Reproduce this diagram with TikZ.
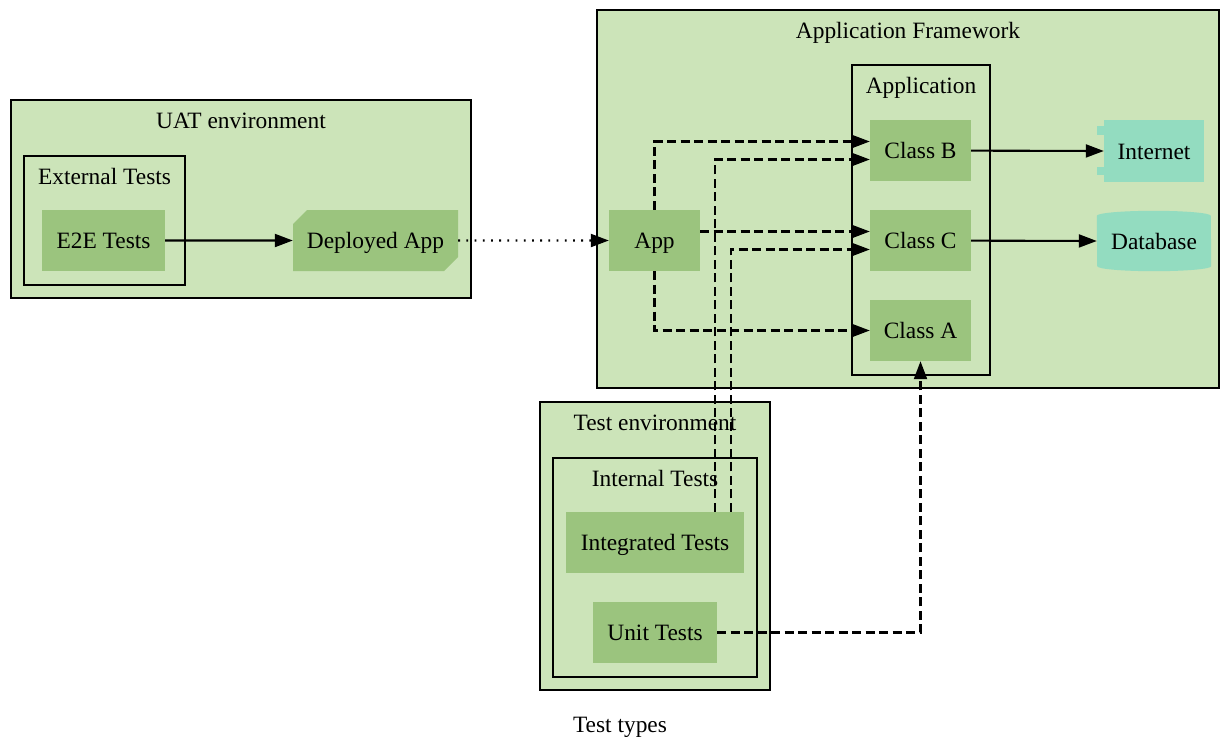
\documentclass[tikz,border=0pt]{standalone}
\usepackage{fontspec}
\setmainfont{Liberation Serif}
\usetikzlibrary{arrows.meta,shapes.misc,calc}

\definecolor{clusterfill}{HTML}{CCE4B9}
\definecolor{nodefill}{HTML}{9BC47E}
\definecolor{extfill}{HTML}{93DCC0}

\tikzset{
  every node/.style={font=\fontsize{23.4}{28}\selectfont, inner sep=0pt,
                     text height=16pt, text depth=0pt},
  cluster/.style={draw=black, line width=1.9pt, fill=clusterfill},
  box/.style={fill=nodefill, minimum height=61pt},
  extbox/.style={fill=extfill, minimum height=61pt},
  edge/.style={line width=2.1pt, -{Triangle[length=18pt,width=13pt]}},
  dashedge/.style={edge, dash pattern=on 9pt off 4.5pt},
  dotedge/.style={edge, dash pattern=on 1.8pt off 6.4pt},
}

\begin{document}
\begin{tikzpicture}[x=1pt, y=-1pt]
  \useasboundingbox (0,0) rectangle (1220,736);

  % clusters
  \node[cluster, minimum width=460pt, minimum height=198pt] (uat) at (241,199) {};
  \node at ([yshift=-21pt]uat.north) (uatlbl) {UAT environment};
  \node[cluster, minimum width=161pt, minimum height=129pt] (ext) at (104.5,220.5) {};
  \node at ([yshift=-21pt]ext.north) (extlbl) {External Tests};

  \node[cluster, minimum width=622pt, minimum height=378pt] (fw) at (908,199) {};
  \node at ([yshift=-21pt]fw.north) (fwlbl) {Application Framework};
  \node[cluster, minimum width=138pt, minimum height=310pt] (appc) at (921,220) {};
  \node at ([yshift=-21pt]appc.north) (appclbl) {Application};

  \node[cluster, minimum width=230pt, minimum height=288pt] (testenv) at (655,546) {};
  \node[cluster, minimum width=204pt, minimum height=219pt] (internal) at (655,567.5) {};
  \node at ([yshift=-21pt]testenv.north) (testlbl) {Test environment};
  \node at ([yshift=-21pt]internal.north) (intlbl) {Internal Tests};

  % nodes
  \node[box, minimum width=123pt] (e2e) at (103.5,240.5) {E2E Tests};
  \node[box, minimum width=165pt, chamfered rectangle,
        chamfered rectangle corners={north west, south east},
        chamfered rectangle xsep=7pt, chamfered rectangle ysep=7pt] (dep) at (375.5,240.5) {Deployed App};
  \node[box, minimum width=91pt] (app) at (654.5,240.5) {App};
  \node[box, minimum width=101pt] (classB) at (920.5,150.5) {Class B};
  \node[box, minimum width=101pt] (classC) at (920.5,240.5) {Class C};
  \node[box, minimum width=101pt] (classA) at (920.5,330.5) {Class A};
  \node[box, minimum width=178pt] (integ) at (655,542.5) {Integrated Tests};
  \node[box, minimum width=124pt] (unit) at (655,632.5) {Unit Tests};

  % component-style external service
  \node[extbox, minimum width=100pt, minimum height=62pt] (net) at (1154,151) {Internet};
  \fill[extfill] ([yshift=-6pt]net.north west) ++(-7,0) rectangle ++(14,9);
  \fill[extfill] ([yshift=7pt]net.south west) ++(-7,0) rectangle ++(14,-8);

  % cylinder-style data store
  \node[minimum width=114pt, minimum height=60pt] (db) at (1154,241) {};
  \fill[extfill] ($(db.north west)+(0,5)$) arc[start angle=180, end angle=0, x radius=57pt, y radius=5pt]
    -- ($(db.south east)+(0,-5)$) arc[start angle=0, end angle=-180, x radius=57pt, y radius=5pt] -- cycle;
  \node at (db) {Database};

  % connectors
  \draw[edge] (e2e) -- (dep);
  \draw[dotedge] (dep) -- (app);
  \draw[dashedge] (app.north) |- ([yshift=9pt]classB.west);
  \draw[dashedge] ([yshift=9pt]app.east) -- ([yshift=9pt]classC.west);
  \draw[dashedge] (app.south) |- (classA.west);
  \draw[dashedge] ([xshift=60pt]integ.north) |- ([yshift=-9pt]classB.west);
  \draw[dashedge] ([xshift=76pt]integ.north) |- ([yshift=-9pt]classC.west);
  \draw[dashedge] (unit.east) -| (classA.south);
  \draw[edge] (classB) -- (net.west);
  \draw[edge] (classC) -- (db.west);

  % graph caption
  \node (caption) at (620,724) {Test types};
\end{tikzpicture}
\end{document}
